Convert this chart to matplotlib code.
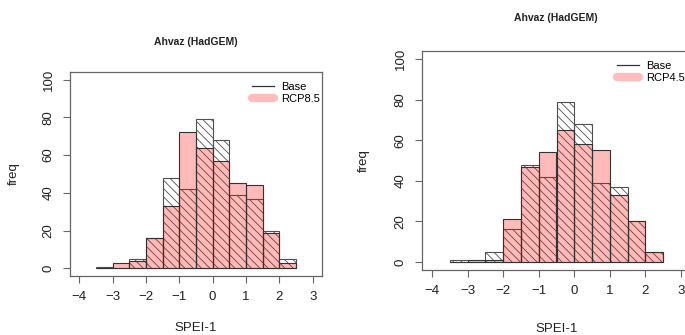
import numpy as np
import matplotlib.pyplot as plt

plt.rcParams['font.family'] = ['Liberation Sans', 'DejaVu Sans']
plt.rcParams['hatch.linewidth'] = 0.6

# Bin edges of the SPEI-1 histograms (width 0.5)
edges = np.arange(-3.5, 3.0, 0.5)

# Frequencies per bin
base = [1, 0, 5, 16, 48, 42, 79, 68, 39, 37, 20, 5]
rcp85 = [0, 3, 4, 16, 33, 72, 64, 57, 45, 44, 19, 3]
rcp45 = [0, 1, 1, 21, 47, 54, 65, 58, 55, 33, 20, 5]

xticks = [-4, -3, -2, -1, 0, 1, 2, 3]
yticks = [0, 20, 40, 60, 80, 100]

fig = plt.figure(figsize=(6.85, 3.35), dpi=100)
ax1 = fig.add_axes([70/685, 59/335, 252/685, 204/335])
ax2 = fig.add_axes([422/685, 65/335, 269/685, 219/335])

box_col = '#666666'


def panel(ax, scen, label, leg_xy, ylab_x, xlab_y):
    # base period: hatched, no fill
    ax.bar(edges[:-1], base, width=0.5, align='edge', facecolor='none',
           edgecolor='#505050', hatch='\\\\\\\\', linewidth=0.8, zorder=2)
    # scenario: translucent pink on top
    ax.bar(edges[:-1], scen, width=0.5, align='edge',
           facecolor=(1, 0, 0, 0.27), edgecolor='#333333', linewidth=0.8, zorder=3)

    ax.set_xlim(-4.28, 3.28)
    ax.set_ylim(-4, 104)
    ax.set_xticks(xticks)
    ax.set_yticks(yticks)
    ax.set_yticklabels([str(v) for v in yticks], rotation=90, va='center')
    ax.tick_params(direction='out', length=5, width=0.8, color=box_col,
                   labelsize=9.5, pad=6, labelcolor='#222222')
    for s in ax.spines.values():
        s.set_color(box_col)
        s.set_linewidth(0.9)

    ax.set_xlabel('SPEI-1', fontsize=9.5, color='#222222')
    ax.xaxis.set_label_coords(0.5, xlab_y)
    ax.set_ylabel('freq', fontsize=9.5, color='#222222')
    ax.yaxis.set_label_coords(ylab_x, 0.5)

    h_base = plt.Line2D([], [], color='#333333', lw=0.9)
    h_scen = plt.Line2D([], [], color='#ffbcbc', lw=6, solid_capstyle='round')
    ax.legend([h_base, h_scen], ['Base', label], loc='upper left',
              bbox_to_anchor=leg_xy, frameon=False, fontsize=8,
              handlelength=2.0, handletextpad=0.6, labelspacing=0.15,
              borderpad=0, borderaxespad=0)


panel(ax1, rcp85, 'RCP8.5', (0.722, 0.95), -0.2, -0.225)
panel(ax2, rcp45, 'RCP4.5', (0.725, 0.953), -0.195, -0.24)

fig.text(196/685, 1 - 42/335, 'Ahvaz (HadGEM)', ha='center', va='center',
         fontsize=7.5, fontweight='bold', color='#222222')
fig.text(556/685, 1 - 18/335, 'Ahvaz (HadGEM)', ha='center', va='center',
         fontsize=7.5, fontweight='bold', color='#222222')

fig.savefig('out.png', dpi=100)
